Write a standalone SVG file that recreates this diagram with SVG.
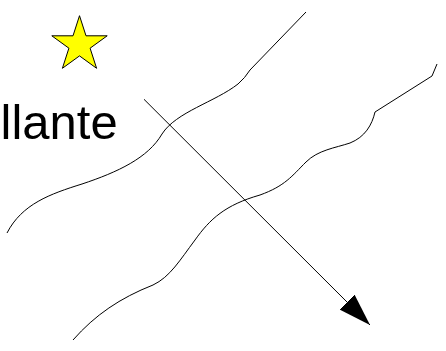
<svg xmlns="http://www.w3.org/2000/svg" width="446" height="351" viewBox="0 0 446 351">
<style>
.wave{fill:none;stroke:#000;stroke-width:1}
.lbl{font-family:"Liberation Sans",Arial,sans-serif;font-size:49px;fill:#000}
</style>
<defs>
<marker id="ah" markerUnits="userSpaceOnUse" viewBox="0 -11 33 22" refX="32.5" refY="0" markerWidth="33" markerHeight="22" orient="auto">
<path d="M0,-10.6 L32.5,0 L0,10.6 z" fill="#000"/>
</marker>
</defs>
<rect width="446" height="351" fill="#fff"/>
<g id="star">
<polygon points="79.5,15.7 86.0,35.8 107.2,35.8 90.1,48.2 96.6,68.3 79.5,55.9 62.4,68.3 68.9,48.2 51.8,35.8 73.0,35.8" fill="#ffff00" stroke="#000" stroke-width="1"/>
</g>
<g id="label">
<text class="lbl" x="0.5" y="139">llante</text>
</g>
<g id="connectors">
<path id="wave1" class="wave" d="M7,233 C22,204 50,194 82,184 C118,172 148,158 162,134 C176,112 215,102 238,84 Q245,78 250,70 L306,12"/>
<path id="wave2" class="wave" d="M73,340 C95,315 120,298 153,285 C170,277 180,260 195,240 C210,219 225,205 260,195 C285,186 292,176 306,162 C318,150 335,148 350,143 C365,137 372,125 375,112 L432,76 L437,64"/>
<line id="arrow" x1="144" y1="99.3" x2="370" y2="325" stroke="#000" stroke-width="1" marker-end="url(#ah)"/>
</g>
</svg>
